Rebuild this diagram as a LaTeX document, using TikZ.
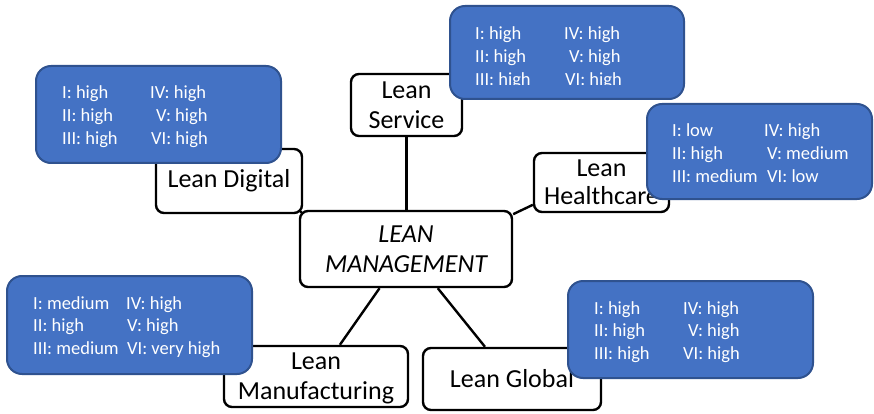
\documentclass[tikz,border=0pt]{standalone}
\usepackage{fontspec}
\setmainfont{Carlito}
\usetikzlibrary{backgrounds}
\definecolor{statfill}{HTML}{4472C4}
\definecolor{statline}{HTML}{2F528F}
\newcommand\topicfont{\fontsize{26}{29.5}\selectfont}
\newcommand\statfont{\fontsize{18.5}{22.7}\selectfont}
\begin{document}
\begin{tikzpicture}[x=1pt,y=-1pt,
  topic/.style={draw, line width=2.4pt, rounded corners=8pt, fill=white,
    inner sep=0pt, align=center, font=\topicfont},
  link/.style={line width=2.4pt},
  statbox/.style={draw=statline, line width=2pt, fill=statfill,
    rounded corners=15pt, inner sep=0pt},
  stattext/.style={anchor=base west, inner sep=0pt, text=white, font=\statfont}]
\useasboundingbox (0,0) rectangle (874,414);

% central topic and the five branches
\node[topic, minimum width=212, minimum height=76, font=\topicfont\itshape]
  (mgmt) at (406,249) {LEAN\\MANAGEMENT};
\node[topic, minimum width=111, minimum height=62] (serv) at (406.5,105) {Lean\\Service};
\node[topic, minimum width=146, minimum height=64] (digital) at (229,181) {Lean Digital};
\node[topic, minimum width=135, minimum height=59, font=\fontsize{26}{28}\selectfont]
  (health) at (601.5,182.5) {Lean\\Healthcare};
\node[topic, minimum width=184, minimum height=61] (mfg) at (316,376.5)
  {Lean\\Manufacturin\smash{g}};
\node[topic, minimum width=178, minimum height=62] (global) at (512,379) {Lean Global};

% connectors behind the boxes
\begin{pgfonlayer}{background}
\draw[link] (serv.south) -- (serv.south |- mgmt.north);
\draw[link] (digital.south east) -- (mgmt.north west);
\draw[link] (mgmt.18.6) -- (health.198.9);
\draw[link] (mgmt.236.3) -- (mfg.53.9);
\draw[link] (mgmt.309.4) -- (global.130.2);
\end{pgfonlayer}

% rating boxes
\node[statbox, minimum width=234, minimum height=93] (servstat) at (567,52.5) {};
\node[statbox, minimum width=245, minimum height=97] (digstat) at (158.5,114.5) {};
\node[statbox, minimum width=225, minimum height=95] (healthstat) at (759.5,151.5) {};
\node[statbox, minimum width=245, minimum height=98] (mfgstat) at (129.5,325) {};
\node[statbox, minimum width=245, minimum height=97] (globalstat) at (690.5,329.5) {};

\begin{scope}
\clip (449,0) rectangle (685,85);
\node[stattext] (servrows) at (475,40) {\begin{tabular}[t]{@{}p{89pt}@{}l@{}}
I: high & IV: high\\ II: high & \hspace{5pt}V: high\\ III: high & \hspace{1pt}VI: high\end{tabular}};
\end{scope}
\node[stattext] (digrows) at (62,99) {\begin{tabular}[t]{@{}p{88pt}@{}l@{}}
I: high & IV: high\\ II: high & \hspace{6pt}V: high\\ III: high & \hspace{1pt}VI: high\end{tabular}};
\node[stattext] (healthrows) at (672,137) {\begin{tabular}[t]{@{}p{92pt}@{}l@{}}
I: low & IV: high\\ II: high & \hspace{3pt}V: medium\\ III: medium & \hspace{3pt}VI: low\end{tabular}};
\node[stattext] (mfgrows) at (33,309) {\begin{tabular}[t]{@{}p{93pt}@{}l@{}}
I: medium & IV: high\\ II: high & \hspace{1pt}V: high\\ III: medium & \hspace{1pt}VI: very high\end{tabular}};
\node[stattext] (globalrows) at (594,314) {\begin{tabular}[t]{@{}p{89pt}@{}l@{}}
I: high & IV: high\\ II: high & \hspace{5pt}V: high\\ III: high & VI: high\end{tabular}};
\end{tikzpicture}
\end{document}
